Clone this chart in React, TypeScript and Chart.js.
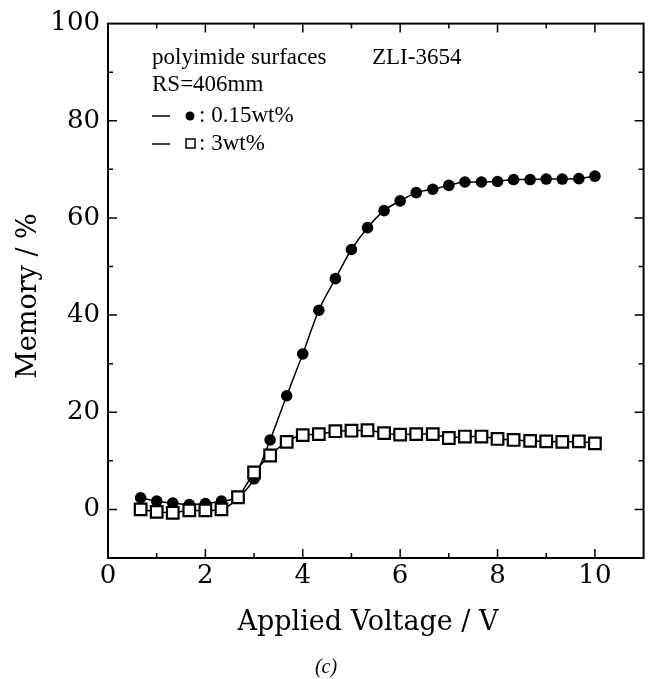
import React, { useEffect, useRef } from 'react';
import { Chart, registerables } from 'chart.js';

Chart.register(...registerables);

// Applied voltage (V)
const voltages = [0.67, 1.0, 1.33, 1.67, 2.0, 2.33, 2.67, 3.0, 3.33, 3.67, 4.0, 4.33, 4.67, 5.0, 5.33, 5.67, 6.0, 6.33, 6.67, 7.0, 7.33, 7.67, 8.0, 8.33, 8.67, 9.0, 9.33, 9.67, 10.0];
// Memory (%) for 0.15 wt%
const memory015 = [2.4, 1.7, 1.3, 1.0, 1.2, 1.7, 2.6, 6.3, 14.3, 23.4, 32.0, 41.0, 47.5, 53.5, 58.0, 61.5, 63.5, 65.2, 65.9, 66.7, 67.4, 67.4, 67.5, 67.9, 67.9, 68.0, 68.0, 68.1, 68.6];
// Memory (%) for 3 wt%
const memory3 = [0.0, -0.5, -0.7, -0.2, -0.2, 0.0, 2.5, 7.6, 11.1, 13.9, 15.3, 15.5, 16.1, 16.2, 16.3, 15.7, 15.4, 15.5, 15.5, 14.7, 15.0, 15.0, 14.5, 14.3, 14.1, 14.0, 13.9, 14.0, 13.6];

const xTickLabels = [0, 2, 4, 6, 8, 10];
const yTickLabels = [0, 20, 40, 60, 80, 100];

const X_MIN = 0, X_MAX = 11, Y_MIN = -10, Y_MAX = 100;

const TICK_FONT = '"DejaVu Serif", serif';
const TEXT_FONT = '"Liberation Serif", "Times New Roman", serif';

const framePlugin = {
  id: 'frameAndText',
  afterDraw(chart: any) {
    const { ctx, chartArea } = chart;
    const xs = chart.scales.x;
    const ys = chart.scales.y;
    const { left, right, top, bottom } = chartArea;
    ctx.save();
    ctx.strokeStyle = '#000';
    ctx.lineWidth = 2;
    ctx.strokeRect(left, top, right - left, bottom - top);

    ctx.lineWidth = 1.5;
    ctx.beginPath();
    for (let v = X_MIN + 1; v < X_MAX; v++) {
      const px = xs.getPixelForValue(v);
      const len = v % 2 === 0 ? 9 : 5;
      ctx.moveTo(px, bottom);
      ctx.lineTo(px, bottom - len);
      ctx.moveTo(px, top);
      ctx.lineTo(px, top + len);
    }
    for (let v = Y_MIN + 10; v < Y_MAX; v += 10) {
      const py = ys.getPixelForValue(v);
      const len = v % 20 === 0 ? 9 : 5;
      ctx.moveTo(left, py);
      ctx.lineTo(left + len, py);
      ctx.moveTo(right, py);
      ctx.lineTo(right - len, py);
    }
    ctx.stroke();

    // Axis titles
    ctx.fillStyle = '#000';
    ctx.font = '27px ' + TICK_FONT;
    ctx.textAlign = 'center';
    ctx.textBaseline = 'alphabetic';
    ctx.fillText('Applied Voltage / V', 368, 630);

    ctx.save();
    ctx.translate(36, 296);
    ctx.rotate(-Math.PI / 2);
    ctx.textBaseline = 'alphabetic';
    ctx.fillText('Memory / %', 0, 0);
    ctx.restore();

    // Caption
    ctx.font = 'italic 20px ' + TEXT_FONT;
    ctx.textAlign = 'center';
    ctx.fillText('(c)', 326, 673);

    // Annotation / legend
    ctx.font = '23px ' + TEXT_FONT;
    ctx.textAlign = 'left';
    ctx.textBaseline = 'middle';
    ctx.fillText('polyimide surfaces', 152, 58);
    ctx.fillText('ZLI-3654', 372, 58);
    ctx.fillText('RS=406mm', 152, 85);

    ctx.lineWidth = 1.5;
    ctx.beginPath();
    ctx.moveTo(152, 116);
    ctx.lineTo(170, 116);
    ctx.moveTo(152, 144);
    ctx.lineTo(170, 144);
    ctx.stroke();

    ctx.beginPath();
    ctx.arc(190, 116, 4.5, 0, Math.PI * 2);
    ctx.fill();
    ctx.strokeRect(186, 139, 9, 9);

    ctx.fillText(': 0.15wt%', 199, 116);
    ctx.fillText(': 3wt%', 199, 144);
    ctx.restore();
  },
};

export default function App() {
  const canvasRef = useRef<HTMLCanvasElement | null>(null);

  useEffect(() => {
    const canvas = canvasRef.current;
    if (!canvas) return;
    const chart = new Chart(canvas, {
      type: 'line',
      data: {
        datasets: [
          {
            label: '0.15wt%',
            data: voltages.map((v, i) => ({ x: v, y: memory015[i] })),
            borderColor: '#000',
            borderWidth: 1.5,
            backgroundColor: '#000',
            pointStyle: 'circle',
            pointRadius: 5.8,
            pointBorderWidth: 0,
            pointBackgroundColor: '#000',
            cubicInterpolationMode: 'monotone',
            order: 2,
          },
          {
            label: '3wt%',
            data: voltages.map((v, i) => ({ x: v, y: memory3[i] })),
            borderColor: '#000',
            borderWidth: 1.5,
            pointStyle: 'rect',
            pointRadius: 8.2,
            pointBorderWidth: 2.2,
            pointBorderColor: '#000',
            pointBackgroundColor: '#fff',
            cubicInterpolationMode: 'monotone',
            order: 1,
          },
        ],
      },
      options: {
        responsive: false,
        animation: false,
        layout: { padding: { left: 0, right: 9, top: 21, bottom: 0 } },
        plugins: {
          legend: { display: false },
          tooltip: { enabled: false },
          title: { display: false },
        },
        scales: {
          x: {
            type: 'linear',
            min: X_MIN,
            max: X_MAX,
            grid: { display: false, drawTicks: false },
            border: { display: false },
            ticks: {
              stepSize: 1,
              autoSkip: false,
              maxRotation: 0,
              padding: 3,
              color: '#000',
              font: { family: TICK_FONT, size: 26 },
              callback: (v: any) => (xTickLabels.includes(Number(v)) ? String(v) : ''),
            },
            afterFit: (scale: any) => {
              scale.height = 121;
            },
          },
          y: {
            type: 'linear',
            min: Y_MIN,
            max: Y_MAX,
            grid: { display: false, drawTicks: false },
            border: { display: false },
            ticks: {
              stepSize: 10,
              autoSkip: false,
              padding: 8,
              color: '#000',
              font: { family: TICK_FONT, size: 26 },
              callback: (v: any) => (yTickLabels.includes(Number(v)) ? String(v) : ''),
            },
            afterFit: (scale: any) => {
              scale.width = 108;
            },
          },
        },
      },
      plugins: [framePlugin],
    } as any);
    return () => chart.destroy();
  }, []);

  return (
    <div style={{ position: 'absolute', left: 0, top: 0, width: 654, height: 679, background: '#fff' }}>
      <canvas ref={canvasRef} width={654} height={679} style={{ display: 'block' }} />
    </div>
  );
}
